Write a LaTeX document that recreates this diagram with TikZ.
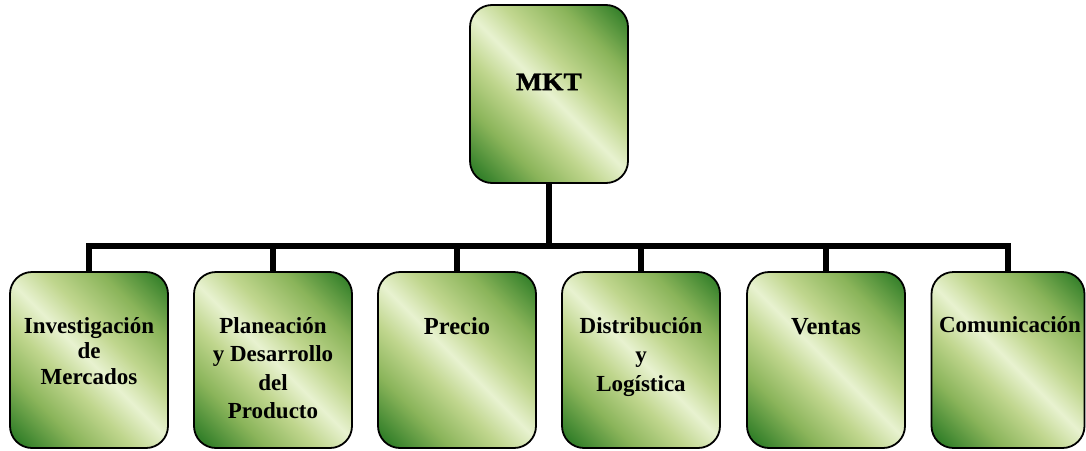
\documentclass[tikz,border=0pt]{standalone}
\usepackage{fontspec}
\setmainfont{Liberation Serif}
\newfontfamily\heavyserif[FakeBold=1.2]{Liberation Serif Bold}
\usetikzlibrary{calc}

% greens for the diagonal box fill
\definecolor{gdark}{RGB}{52,128,42}
\definecolor{gmid}{RGB}{138,180,90}
\definecolor{gpale}{RGB}{192,214,142}
\definecolor{glight}{RGB}{232,242,208}

\pgfdeclarehorizontalshading{leafgreen}{100bp}{%
  color(0bp)=(gdark); color(18bp)=(gdark); color(30bp)=(gmid);
  color(41bp)=(gpale); color(50bp)=(glight); color(59bp)=(gpale);
  color(71bp)=(gmid); color(83bp)=(gdark); color(100bp)=(gdark)}

% centred lines whose first baseline is the node's base
\newcommand{\stackedlines}[1]{\begin{tabular}[t]{@{}c@{}}#1\end{tabular}}

\tikzset{
  unitbox/.style={draw=black, line width=1.8pt, rounded corners=22pt,
    shading=leafgreen, shading angle=45, inner sep=0pt,
    minimum width=158pt, minimum height=176pt},
  label/.style={anchor=base, inner sep=0pt, text=black},
  bus/.style={line width=6pt, line join=miter, draw=black}
}

\begin{document}
\begin{tikzpicture}[x=1pt, y=-1pt]
\useasboundingbox (0,0) rectangle (1086,450);

% head box
\node[unitbox, minimum height=178pt] (mkt) at (549,94) {};

% department boxes
\node[unitbox] (inv)  at (89,360)  {};
\node[unitbox] (plan) at (273,360) {};
\node[unitbox] (pre)  at (457,360) {};
\node[unitbox] (dist) at (641,360) {};
\node[unitbox] (ven)  at (826,360) {};
\node[unitbox, minimum width=153pt] (com) at (1008,360) {};

\coordinate (rail) at (549,246);

% connectors
\draw[bus] (mkt.south) -- (mkt.south |- rail);
\draw[bus] (inv.north) -- (inv.north |- rail) -- (com.north |- rail) -- (com.north);
\foreach \b in {plan,pre,dist,ven}
  \draw[bus] (\b.north |- rail) -- (\b.north);

% texts
\node[label, font=\heavyserif\fontsize{25}{28}\selectfont, xscale=1.1] (tmkt) at ($(mkt.north)+(0,86)$) {MKT};
\node[label, font=\bfseries\fontsize{23}{25.5}\selectfont] (tinv) at ($(inv.north)+(0,62)$)
  {\stackedlines{Investigación\\de\\Mercados}};
\node[label, font=\bfseries\fontsize{23}{28.5}\selectfont] (tplan) at ($(plan.north)+(0,62)$)
  {\stackedlines{Planeación\\y Desarrollo\\del\\Producto}};
\node[label, font=\bfseries\fontsize{24.5}{28}\selectfont] (tpre) at ($(pre.north)+(0,63)$) {Precio};
\node[label, font=\bfseries\fontsize{23}{29}\selectfont] (tdist) at ($(dist.north)+(0,62)$)
  {\stackedlines{Distribución\\y\\Logística}};
\node[label, font=\bfseries\fontsize{24.5}{28}\selectfont] (tven) at ($(ven.north)+(0,63)$) {Ventas};
\node[label, font=\bfseries\fontsize{23}{28}\selectfont] (tcom) at ($(com.north)+(2,61)$) {Comunicación};
\end{tikzpicture}
\end{document}
